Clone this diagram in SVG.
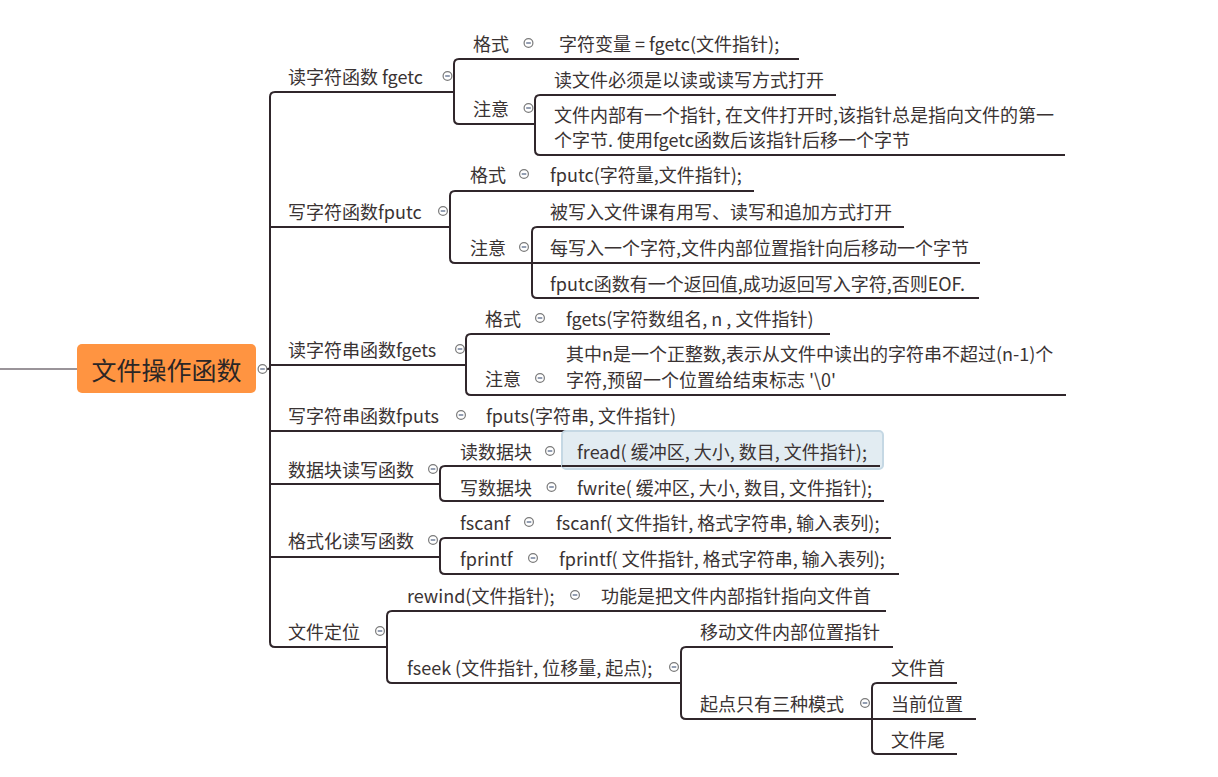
<svg xmlns="http://www.w3.org/2000/svg" width="1218" height="777" viewBox="0 0 1218 777">
<style>
text{font-family:"Microsoft YaHei","Noto Sans CJK SC","Noto Sans",sans-serif;font-size:18px;fill:#3a3333;dominant-baseline:central}
.root{font-size:25px;fill:#2b2626;text-anchor:middle}
.ln{fill:none;stroke:#30262b;stroke-width:2;stroke-linecap:butt}
.c{fill:#fff;stroke:#7a7a7a;stroke-width:1.2}
.m{stroke:#4e5f80;stroke-width:1.2}
</style>
<defs>
<g id="col"><circle class="c" r="4.4"/><line class="m" x1="-2.3" y1="0" x2="2.3" y2="0"/></g>
</defs>
<rect width="1218" height="777" fill="#fff"/>
<g id="connectors">
<line x1="0" y1="369" x2="77" y2="369" stroke="#9a9499" stroke-width="2"/>
<path class="ln" d="M266 369 L268 369 Q270 369 270 367 L270 365"/>
<path class="ln" d="M454 92 L275 92 Q270 92 270 97 L270 642 Q270 647 275 647 L387 647"/>
<path class="ln" d="M270 227 L450 227"/>
<path class="ln" d="M270 365 L466 365"/>
<path class="ln" d="M270 431 L690 431"/>
<path class="ln" d="M270 484 L440 484"/>
<path class="ln" d="M270 557 L440 557"/>
<path class="ln" d="M799 59 L459 59 Q454 59 454 64 L454 119 Q454 124 459 124 L535 124"/>
<path class="ln" d="M836 95 L540 95 Q535 95 535 100 L535 150 Q535 155 540 155 L1065 155"/>
<path class="ln" d="M754 191 L455 191 Q450 191 450 196 L450 258 Q450 263 455 263 L532 263"/>
<path class="ln" d="M904 227 L537 227 Q532 227 532 232 L532 293 Q532 298 537 298 L979 298"/>
<path class="ln" d="M532 263 L980 263"/>
<path class="ln" d="M830 334 L471 334 Q466 334 466 339 L466 390 Q466 395 471 395 L1066 395"/>
<path class="ln" d="M880 466 L445 466 Q440 466 440 471 L440 496 Q440 501 445 501 L884 501"/>
<path class="ln" d="M891 538 L445 538 Q440 538 440 543 L440 569 Q440 574 445 574 L899 574"/>
<path class="ln" d="M886 611 L392 611 Q387 611 387 616 L387 678 Q387 683 392 683 L681 683"/>
<path class="ln" d="M893 647 L686 647 Q681 647 681 652 L681 714 Q681 719 686 719 L872 719"/>
<path class="ln" d="M957 683 L877 683 Q872 683 872 688 L872 749 Q872 754 877 754 L957 754"/>
<path class="ln" d="M872 719 L976 719"/>
</g>
<g id="root">
<rect x="77" y="344" width="179" height="49" rx="5" fill="#ff9441"/>
<text class="root" x="166.5" y="368.5">文件操作函数</text>
<use href="#col" x="262.5" y="369"/>
</g>
<g id="n-fgetc">
<text x="288" y="76">读字符函数 fgetc</text><use href="#col" x="447.5" y="76"/>
</g>
<g id="n-fgetc-fmt">
<text x="473" y="43">格式</text><use href="#col" x="528.5" y="43"/>
<text x="559" y="43">字符变量 = fgetc(文件指针);</text>
</g>
<g id="n-fgetc-note">
<text x="473" y="108">注意</text><use href="#col" x="528.5" y="108"/>
<text x="554" y="79">读文件必须是以读或读写方式打开</text>
<text x="554" y="114">文件内部有一个指针, 在文件打开时,该指针总是指向文件的第一<tspan x="554" dy="25">个字节. 使用fgetc函数后该指针后移一个字节</tspan></text>
</g>
<g id="n-fputc">
<text x="288" y="211">写字符函数fputc</text><use href="#col" x="443" y="211"/>
</g>
<g id="n-fputc-fmt">
<text x="470" y="174">格式</text><use href="#col" x="524" y="174"/>
<text x="550" y="174">fputc(字符量,文件指针);</text>
</g>
<g id="n-fputc-note">
<text x="470" y="247">注意</text><use href="#col" x="524" y="247"/>
<text x="550" y="211">被写入文件课有用写、读写和追加方式打开</text>
<text x="550" y="247">每写入一个字符,文件内部位置指针向后移动一个字节</text>
<text x="550" y="283">fputc函数有一个返回值,成功返回写入字符,否则EOF.</text>
</g>
<g id="n-fgets">
<text x="288" y="349">读字符串函数fgets</text><use href="#col" x="460" y="349"/>
</g>
<g id="n-fgets-fmt">
<text x="485" y="318">格式</text><use href="#col" x="540" y="318"/>
<text x="566" y="318">fgets(字符数组名, n , 文件指针)</text>
</g>
<g id="n-fgets-note">
<text x="485" y="378">注意</text><use href="#col" x="540" y="378"/>
<text x="566" y="353">其中n是一个正整数,表示从文件中读出的字符串不超过(n-1)个<tspan x="566" dy="26">字符,预留一个位置给结束标志 '\0'</tspan></text>
</g>
<g id="n-fputs">
<text x="288" y="415">写字符串函数fputs</text><use href="#col" x="461" y="415"/>
<text x="486" y="415">fputs(字符串, 文件指针)</text>
</g>
<g id="n-block">
<text x="288" y="469">数据块读写函数</text><use href="#col" x="433" y="469"/>
</g>
<g id="n-fread">
<text x="460" y="451">读数据块</text><use href="#col" x="550" y="451"/>
<rect x="562" y="431" width="321" height="38" rx="4" fill="#dde9f0" fill-opacity="0.85" stroke="#c5d8e4" stroke-width="2"/>
<line x1="562" y1="466" x2="880" y2="466" stroke="#30262b" stroke-width="2"/>
<text x="577" y="451">fread( 缓冲区, 大小, 数目, 文件指针);</text>
</g>
<g id="n-fwrite">
<text x="460" y="487">写数据块</text><use href="#col" x="551.5" y="487"/>
<text x="577" y="487">fwrite( 缓冲区, 大小, 数目, 文件指针);</text>
</g>
<g id="n-format">
<text x="288" y="540">格式化读写函数</text><use href="#col" x="433" y="540"/>
</g>
<g id="n-fscanf">
<text x="460" y="522">fscanf</text><use href="#col" x="529" y="522"/>
<text x="556" y="522">fscanf( 文件指针, 格式字符串, 输入表列);</text>
</g>
<g id="n-fprintf">
<text x="460" y="558">fprintf</text><use href="#col" x="533" y="558"/>
<text x="559" y="558">fprintf( 文件指针, 格式字符串, 输入表列);</text>
</g>
<g id="n-pos">
<text x="288" y="631">文件定位</text><use href="#col" x="380" y="631"/>
</g>
<g id="n-rewind">
<text x="407" y="595">rewind(文件指针);</text><use href="#col" x="575" y="595"/>
<text x="601" y="595">功能是把文件内部指针指向文件首</text>
</g>
<g id="n-fseek">
<text x="407" y="667">fseek (文件指针, 位移量, 起点);</text><use href="#col" x="674" y="667"/>
<text x="700" y="631">移动文件内部位置指针</text>
</g>
<g id="n-origin">
<text x="700" y="703">起点只有三种模式</text><use href="#col" x="865" y="703"/>
<text x="891" y="667">文件首</text>
<text x="891" y="703">当前位置</text>
<text x="891" y="739">文件尾</text>
</g>
</svg>
